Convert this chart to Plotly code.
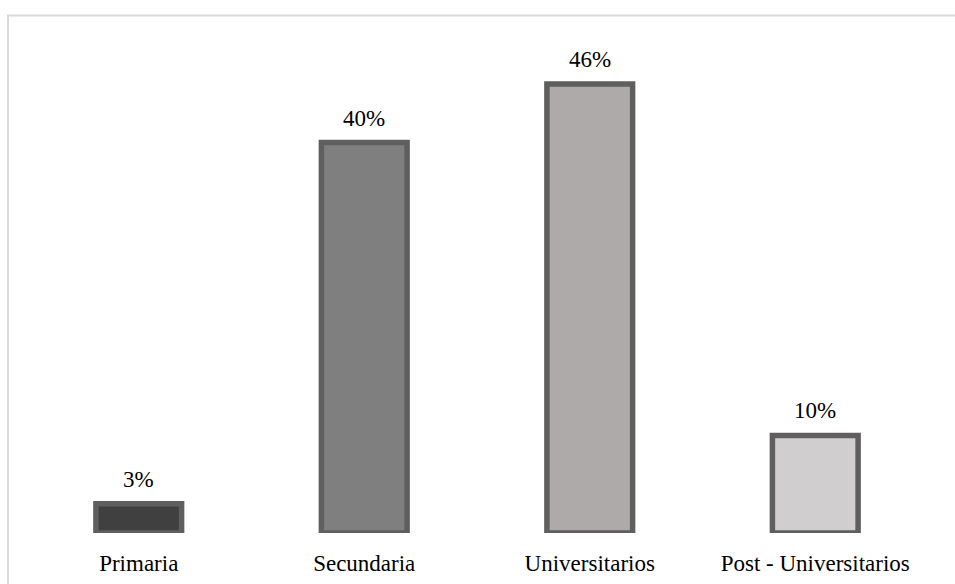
import plotly.graph_objects as go

categories = ["Primaria", "Secundaria", "Universitarios", "Post - Universitarios"]
values = [3, 40, 46, 10]
labels = ["3%", "40%", "46%", "10%"]
fills = ["#404040", "#7F7F7F", "#AEAAAA", "#D0CECE"]

SERIF = "Liberation Serif, Times New Roman, DejaVu Serif, serif"
W, H = 955, 584
L, R, T, B = 26, 27, 44.5, 51
pw, ph = W - L - R, H - T - B

fig = go.Figure(go.Bar(
    x=categories, y=values,
    marker=dict(color=fills, line=dict(color="#5F5F5F", width=5.5)),
    width=0.38, cliponaxis=False, hoverinfo="skip",
))

for c, v, t in zip(categories, values, labels):
    fig.add_annotation(x=c, y=v, text=t, showarrow=False, yanchor="bottom",
                       yshift=10, font=dict(family=SERIF, size=23, color="black"))

def px_x(p):
    return (p - L) / pw

def px_y(p):
    return (H - B - p) / ph

fig.add_shape(type="rect", xref="paper", yref="paper",
              x0=px_x(8), x1=px_x(980), y0=px_y(15), y1=px_y(620),
              line=dict(color="#D9D9D9", width=2), layer="below")

fig.update_layout(
    width=W, height=H, margin=dict(l=L, r=R, t=T, b=B, autoexpand=False),
    paper_bgcolor="white", plot_bgcolor="white", showlegend=False,
    font=dict(family=SERIF, size=23, color="black"),
    xaxis=dict(showgrid=False, showline=False, zeroline=False, ticks="",
               ticklabelstandoff=14, automargin=False,
               tickfont=dict(family=SERIF, size=23, color="black")),
    yaxis=dict(range=[0, 50], visible=False, showgrid=False, zeroline=False,
               automargin=False),
)

fig.write_html("out.html")
